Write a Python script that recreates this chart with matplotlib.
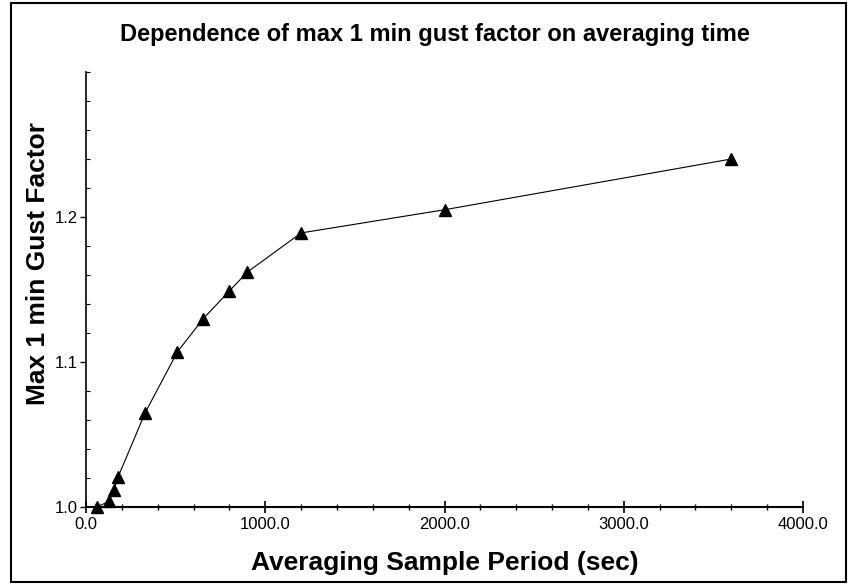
import matplotlib
matplotlib.use("Agg")
import matplotlib.pyplot as plt
from matplotlib.ticker import MultipleLocator, FormatStrFormatter
from matplotlib.patches import Rectangle

plt.rcParams['font.family'] = ['Liberation Sans', 'DejaVu Sans']

period_sec = [60, 130, 155, 180, 330, 510, 655, 800, 900, 1200, 2000, 3600]
gust_factor = [1.000, 1.004, 1.012, 1.021, 1.065, 1.107, 1.130, 1.149, 1.162, 1.189, 1.205, 1.240]

title = "Dependence of max 1 min gust factor on averaging time"
xlabel = "Averaging Sample Period (sec)"
ylabel = "Max 1 min Gust Factor"

fig = plt.figure(figsize=(8.5, 5.84), dpi=100)
fig.patches.append(Rectangle((11/850, 2/584), (846-11)/850, (581-2)/584,
                             transform=fig.transFigure, fill=False,
                             edgecolor='black', linewidth=1.5))

ax = fig.add_axes([86/850, (584-507)/584, (803-86)/850, (507-72)/584])
ax.plot(period_sec, gust_factor, color='black', linewidth=0.8,
        marker='^', markersize=9, markerfacecolor='black', markeredgecolor='black',
        clip_on=False, zorder=3)

ax.set_xlim(0, 4000)
ax.set_ylim(1.0, 1.3)
ax.spines['top'].set_visible(False)
ax.spines['right'].set_visible(False)
ax.spines['left'].set_linewidth(1.2)
ax.spines['bottom'].set_linewidth(1.5)

ax.xaxis.set_major_locator(MultipleLocator(1000))
ax.xaxis.set_minor_locator(MultipleLocator(200))
ax.xaxis.set_major_formatter(FormatStrFormatter('%.1f'))
ax.yaxis.set_major_locator(MultipleLocator(0.1))
ax.yaxis.set_minor_locator(MultipleLocator(0.02))
ax.yaxis.set_major_formatter(FormatStrFormatter('%.1f'))
ax.set_yticks([1.0, 1.1, 1.2])

ax.tick_params(axis='x', which='major', direction='inout', length=8, width=1.2, labelsize=12, pad=3)
ax.tick_params(axis='x', which='minor', direction='inout', length=5, width=1.0)
ax.tick_params(axis='y', which='major', direction='out', length=4, width=1.0, labelsize=12, pad=2)
ax.tick_params(axis='y', which='minor', direction='in', length=3, width=0.8)

fig.text(435/850, 1 - 35/584, title, ha='center', va='center', fontsize=17, fontweight='bold')
fig.text(445/850, 1 - 563/584, xlabel, ha='center', va='center', fontsize=19, fontweight='bold')
fig.text(38/850, 1 - 263/584, ylabel, ha='center', va='center', fontsize=19,
         fontweight='bold', rotation=90)

fig.savefig("out.png", dpi=100)
